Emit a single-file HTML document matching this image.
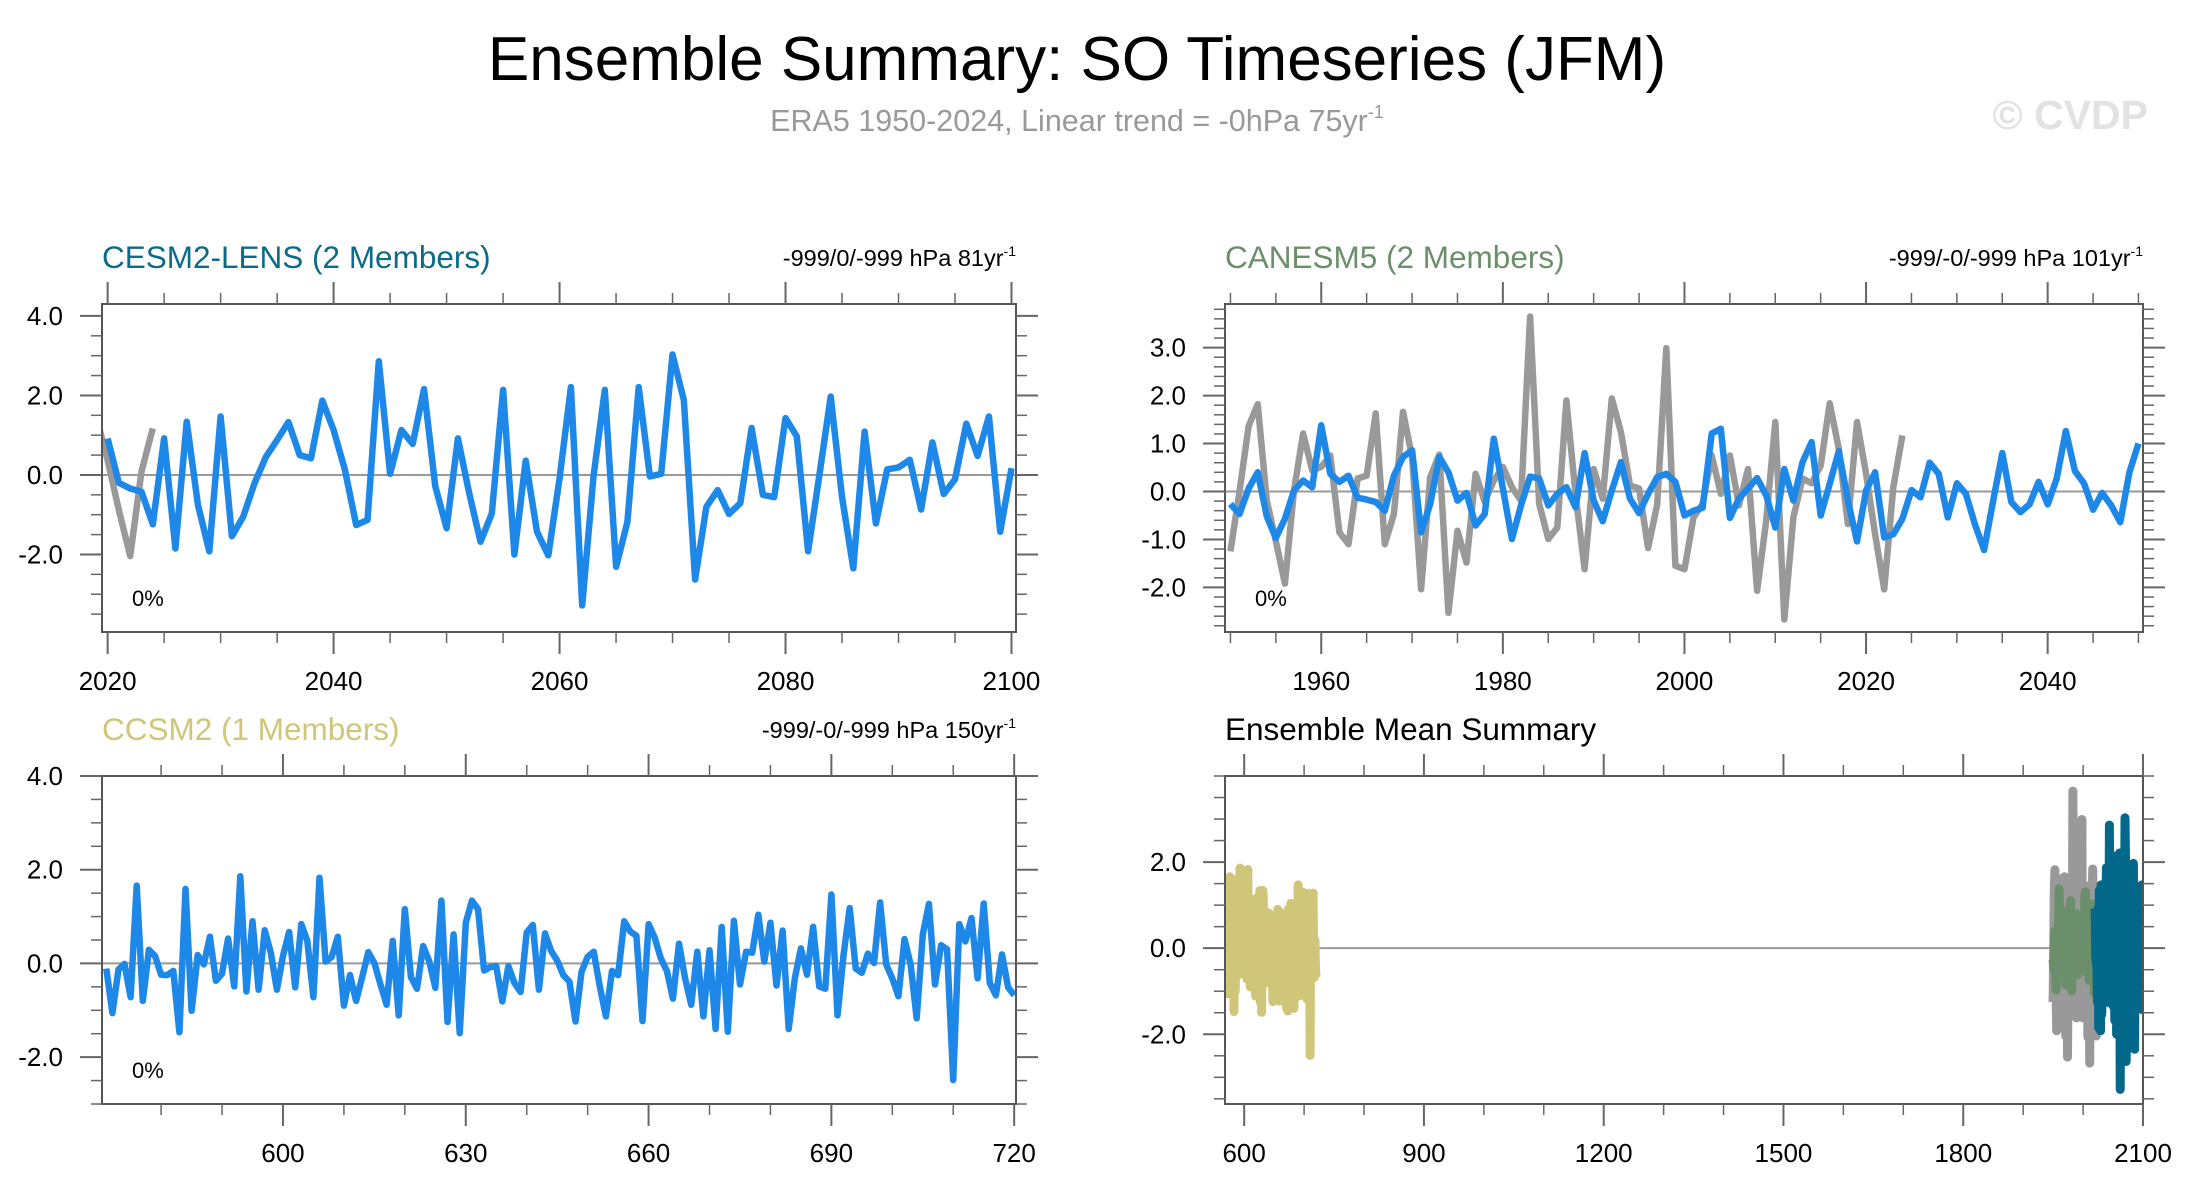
<!DOCTYPE html>
<html><head><meta charset="utf-8">
<style>
html,body{margin:0;padding:0;background:#fff;}
svg{display:block;font-family:"Liberation Sans",sans-serif;}
</style></head>
<body>
<svg id="chart" width="2188" height="1196" viewBox="0 0 2188 1196" xmlns="http://www.w3.org/2000/svg">
<text x="1077" y="80" font-size="62" text-anchor="middle" fill="#000">Ensemble Summary: SO Timeseries (JFM)</text>
<text x="1077" y="131" font-size="30.5" text-anchor="middle" fill="#999">ERA5 1950-2024, Linear trend = -0hPa 75yr<tspan dy="-13" font-size="18">-1</tspan></text>
<text x="2148" y="129" font-size="41" font-weight="bold" text-anchor="end" fill="#e2e2e2">© CVDP</text>
<g id="plots"></g>
</svg>
<script>
// ---- data ----
const era5Start = 1950;
const era5Values = [-1.25,0.0,1.36,1.82,-0.19,-1.03,-1.92,0.02,1.21,0.44,0.51,0.75,-0.85,-1.1,0.27,0.33,1.63,-1.1,-0.47,1.66,0.72,-2.04,0.3,0.77,-2.53,-0.82,-1.48,0.37,-0.22,0.23,0.51,0.09,-0.19,3.65,-0.26,-0.99,-0.75,1.9,-0.05,-1.62,0.47,-0.15,1.94,1.24,0.13,0.06,-1.18,-0.27,2.99,-1.55,-1.62,-0.54,-0.26,0.75,-0.05,0.75,-0.29,0.47,-2.07,-0.61,1.45,-2.67,-0.54,0.27,0.17,0.54,1.84,0.89,-0.68,1.45,0.37,-0.89,-2.04,0.09,1.17];
const cesm2Start = 2020;
const cesm2Values = [0.92,-0.2,-0.34,-0.42,-1.24,0.92,-1.85,1.34,-0.76,-1.92,1.47,-1.54,-1.05,-0.21,0.45,0.88,1.33,0.5,0.42,1.87,1.13,0.13,-1.26,-1.13,2.86,0.03,1.13,0.78,2.16,-0.29,-1.34,0.92,-0.46,-1.68,-0.97,2.14,-2.0,0.36,-1.43,-2.02,-0.08,2.21,-3.28,-0.04,2.14,-2.31,-1.18,2.21,-0.04,0.03,3.03,1.89,-2.63,-0.8,-0.38,-0.98,-0.71,1.18,-0.5,-0.56,1.43,0.97,-1.92,0.0,1.97,-0.55,-2.35,1.09,-1.22,0.14,0.19,0.38,-0.87,0.82,-0.48,-0.11,1.29,0.48,1.47,-1.43,0.17];
const canesm5Start = 1950;
const canesm5Values = [-0.26,-0.47,0.06,0.4,-0.52,-0.97,-0.57,0.02,0.23,0.09,1.38,0.37,0.2,0.33,-0.13,-0.17,-0.22,-0.4,0.33,0.72,0.86,-0.85,-0.26,0.72,0.4,-0.19,-0.03,-0.71,-0.47,1.1,0.06,-0.99,-0.29,0.31,0.27,-0.29,-0.05,0.09,-0.33,0.8,-0.19,-0.62,0.02,0.61,-0.15,-0.45,-0.05,0.3,0.37,0.2,-0.5,-0.4,-0.34,1.21,1.31,-0.55,-0.15,0.06,0.28,-0.08,-0.75,0.47,-0.19,0.61,1.03,-0.5,0.16,0.84,-0.19,-1.04,0.02,0.4,-0.96,-0.89,-0.57,0.03,-0.12,0.6,0.37,-0.54,0.17,-0.05,-0.69,-1.22,-0.19,0.8,-0.22,-0.43,-0.27,0.2,-0.27,0.27,1.26,0.43,0.17,-0.38,-0.03,-0.29,-0.64,0.4,1.0];
const ccsm2Start = 571;
const ccsm2Values = [-0.11,-1.06,-0.13,-0.01,-0.72,1.66,-0.8,0.29,0.16,-0.24,-0.25,-0.16,-1.47,1.59,-1.01,0.18,-0.02,0.57,-0.37,-0.22,0.53,-0.49,1.86,-0.6,0.9,-0.56,0.71,0.23,-0.56,0.16,0.67,-0.51,0.84,0.48,-0.72,1.83,0.04,0.14,0.57,-0.9,-0.25,-0.8,-0.29,0.24,0.01,-0.45,-0.88,0.48,-1.11,1.16,-0.29,-0.54,0.37,0.05,-0.52,1.34,-1.25,0.62,-1.49,0.87,1.34,1.16,-0.15,-0.08,-0.06,-0.81,-0.06,-0.42,-0.61,0.66,0.82,-0.56,0.64,0.27,0.06,-0.25,-0.39,-1.24,-0.18,0.14,0.25,-0.49,-1.13,-0.16,-0.25,0.9,0.68,0.59,-1.23,0.84,0.55,0.11,-0.16,-0.75,0.42,-0.32,-0.88,0.25,-1.13,0.28,-1.4,0.78,-1.46,0.91,-0.45,0.25,0.23,1.04,0.04,0.87,-0.47,0.7,-1.4,-0.32,0.32,-0.24,0.78,-0.49,-0.54,1.47,-1.11,0.19,1.18,-0.11,-0.2,0.21,0.01,1.3,-0.02,-0.32,-0.7,0.52,-0.02,-1.17,0.62,1.27,-0.45,0.39,0.3,-2.49,0.84,0.47,0.97,-0.32,1.28,-0.42,-0.68,0.19,-0.51,-0.68];
const p1XTicks = [2020,2040,2060,2080,2100];
const p2XTicks = [1960,1980,2000,2020,2040];
const p3XTicks = [600,630,660,690,720];
const p4XTicks = [600,900,1200,1500,1800,2100];
const yTicks4 = [-2.0,0.0,2.0,4.0];
const yTicks2 = [-2.0,-1.0,0.0,1.0,2.0,3.0];

const NS = "http://www.w3.org/2000/svg";
const root = document.getElementById('plots');
function mk(tag, attrs, parent){
  const e = document.createElementNS(NS, tag);
  for (const k in attrs) e.setAttribute(k, attrs[k]);
  (parent||root).appendChild(e);
  return e;
}
function panel(o){
  const g = mk('g', {});
  
  
  const sx = v => o.L + (v - o.x0) / (o.x1 - o.x0) * (o.R - o.L);
  const sy = v => o.B - (v - o.y0) / (o.y1 - o.y0) * (o.B - o.T);
  const clipId = 'clip-' + o.name;
  const cp = mk('clipPath', {id: clipId}, g);
  mk('rect', {x:o.L, y:o.T, width:o.R-o.L, height:o.B-o.T}, cp);
  const t = mk('text', {x:o.L, y:o.T-36, 'font-size':31.5, fill:o.titleColor}, g);
  t.textContent = o.title;
  
  
  if (o.note){
    const n = mk('text', {x:o.R, y:o.T-38, 'font-size':23.5, 'text-anchor':'end', fill:'#000'}, g);
    n.textContent = o.note;
    const sp = mk('tspan', {dy:-10, 'font-size':14}, n);
    sp.textContent = '-1';
    
    
  }
  const z = mk('line', {x1:o.L, x2:o.R, y1:sy(0), y2:sy(0), stroke:'#999', 'stroke-width':2}, g);
  
  
  o.series.forEach(s => {
    const pts = s.values.map((v,i) => sx(s.start + i).toFixed(1) + ',' + sy(v).toFixed(1)).join(' ');
    const pl = mk('polyline', {points:pts, fill:'none', stroke:s.color, 'stroke-width':s.w, 'stroke-linejoin':'round', 'clip-path':'url(#'+clipId+')'}, g);
    
    
  });
  const bx = mk('rect', {x:o.L, y:o.T, width:o.R-o.L, height:o.B-o.T, fill:'none', stroke:'#555', 'stroke-width':2}, g);
  
  
  for (let v = Math.ceil(o.x0/o.xMinor)*o.xMinor; v <= o.x1+1e-6; v += o.xMinor){
    const major = o.xTicks.indexOf(v) >= 0;
    const len = major ? 22 : 11;
    const x = sx(v);
    mk('line', {x1:x, x2:x, y1:o.T, y2:o.T-len, stroke:'#666', 'stroke-width':major?2:1.5}, g);
    mk('line', {x1:x, x2:x, y1:o.B, y2:o.B+len, stroke:'#666', 'stroke-width':major?2:1.5}, g);
  }
  o.xTicks.forEach(v => {
    const lb = mk('text', {x:sx(v), y:o.B+58, 'font-size':26, 'text-anchor':'middle', fill:'#000'}, g);
    lb.textContent = String(v);
    
    
  });
  for (let k = Math.ceil(o.y0/o.yMinor - 1e-6); k*o.yMinor <= o.y1 + 1e-6; k++){
    const v = +(k*o.yMinor).toFixed(3);
    const major = o.yTicks.some(t => Math.abs(t-v) < 1e-6);
    const len = major ? 22 : 11;
    const y = sy(v);
    mk('line', {x1:o.L, x2:o.L-len, y1:y, y2:y, stroke:'#666', 'stroke-width':major?2:1.5}, g);
    mk('line', {x1:o.R, x2:o.R+len, y1:y, y2:y, stroke:'#666', 'stroke-width':major?2:1.5}, g);
  }
  o.yTicks.forEach(v => {
    if (v < o.y0 || v > o.y1) return;
    const lb = mk('text', {x:o.L-39, y:sy(v)+9, 'font-size':26, 'text-anchor':'end', fill:'#000'}, g);
    lb.textContent = v.toFixed(1);
    
    
  });
  if (o.pct){
    const p = mk('text', {x:o.L+30, y:o.B-26, 'font-size':22, fill:'#000'}, g);
    p.textContent = '0%';
    
    
  }
}
const BLUE = '#1e88e8', GRAY = '#999999';
panel({name:'cesm2-lens-panel', L:102, R:1016, T:304, B:632, x0:2019.5, x1:2100.4, y0:-3.95, y1:4.3,
  xTicks:p1XTicks, xMinor:5, yTicks:yTicks4, yMinor:0.5, title:'CESM2-LENS (2 Members)', titleColor:'#0b6b8a',
  note:'-999/0/-999 hPa 81yr', pct:true,
  series:[{name:'era5-line', start:era5Start, values:era5Values, color:GRAY, w:6.5},
          {name:'cesm2-line', start:cesm2Start, values:cesm2Values, color:BLUE, w:6.5}]});
panel({name:'canesm5-panel', L:1225, R:2143, T:304, B:632, x0:1949.4, x1:2050.5, y0:-2.93, y1:3.91,
  xTicks:p2XTicks, xMinor:5, yTicks:yTicks2, yMinor:0.2, title:'CANESM5 (2 Members)', titleColor:'#6b8f6b',
  note:'-999/-0/-999 hPa 101yr', pct:true,
  series:[{name:'era5-line', start:era5Start, values:era5Values, color:GRAY, w:6.5},
          {name:'canesm5-line', start:canesm5Start, values:canesm5Values, color:BLUE, w:6.5}]});
panel({name:'ccsm2-panel', L:102, R:1016, T:776, B:1104, x0:570.3, x1:720.3, y0:-3.0, y1:4.0,
  xTicks:p3XTicks, xMinor:10, yTicks:yTicks4, yMinor:0.5, title:'CCSM2 (1 Members)', titleColor:'#cfc679',
  note:'-999/-0/-999 hPa 150yr', pct:true,
  series:[{name:'ccsm2-line', start:ccsm2Start, values:ccsm2Values, color:BLUE, w:6.5}]});
panel({name:'ensemble-mean-panel', L:1225, R:2143, T:776, B:1104, x0:568, x1:2100, y0:-3.62, y1:4.0,
  xTicks:p4XTicks, xMinor:100, yTicks:[-2.0,0.0,2.0], yMinor:0.5, title:'Ensemble Mean Summary', titleColor:'#000',
  note:null, pct:false,
  series:[{name:'ccsm2-mean-line', start:ccsm2Start, values:ccsm2Values, color:'#cfc679', w:9},
          {name:'era5-mean-line', start:era5Start, values:era5Values, color:GRAY, w:9},
          {name:'canesm5-mean-line', start:canesm5Start, values:canesm5Values, color:'#6b8f6b', w:9},
          {name:'cesm2-mean-line', start:cesm2Start, values:cesm2Values, color:'#04688a', w:9}]});
</script>
</body></html>
